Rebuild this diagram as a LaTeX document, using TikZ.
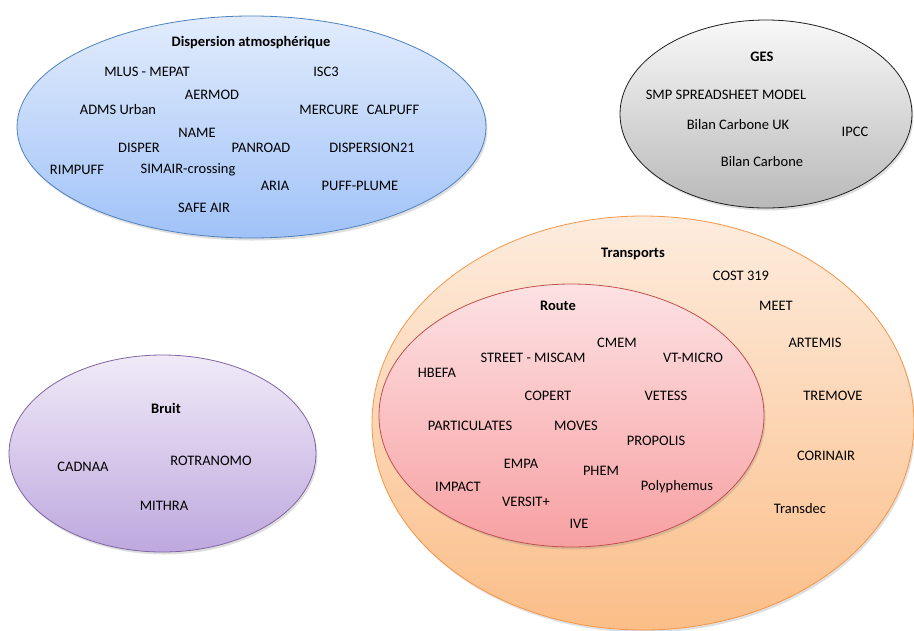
\documentclass[tikz,border=0pt]{standalone}
\usepackage{fontspec}
\setmainfont{Carlito}
\usetikzlibrary{shapes.geometric,shadows}
\definecolor{blueTop}{RGB}{226,236,252}
\definecolor{blueBot}{RGB}{160,194,248}
\definecolor{blueLine}{RGB}{79,129,189}
\definecolor{grayTop}{RGB}{248,248,248}
\definecolor{grayBot}{RGB}{185,185,185}
\definecolor{grayLine}{RGB}{30,30,30}
\definecolor{purpTop}{RGB}{240,234,248}
\definecolor{purpBot}{RGB}{190,168,222}
\definecolor{purpLine}{RGB}{128,100,162}
\definecolor{orTop}{RGB}{253,236,222}
\definecolor{orBot}{RGB}{251,190,136}
\definecolor{orLine}{RGB}{247,150,70}
\definecolor{redTop}{RGB}{253,226,228}
\definecolor{redBot}{RGB}{247,160,162}
\definecolor{redLine}{RGB}{192,80,77}
\tikzset{
  blob/.style={ellipse, inner sep=0pt, line width=0.8pt,
    drop shadow={opacity=0.25, shadow xshift=1.5pt, shadow yshift=-2.5pt}},
  lbl/.style={inner sep=0pt, font=\fontsize{14.5}{17}\selectfont},
  ttl/.style={lbl, font=\fontsize{14.5}{17}\selectfont\bfseries},
}
\begin{document}
\begin{tikzpicture}[x=1pt,y=-1pt]
\useasboundingbox (0,0) rectangle (914,630);
\clip (0,0) rectangle (914,630);
% ellipses
\node[blob, draw=blueLine, top color=blueTop, bottom color=blueBot,
  minimum width=469pt, minimum height=222pt] (disp) at (251.5,127) {};
\node[blob, draw=grayLine, top color=grayTop, bottom color=grayBot,
  minimum width=292pt, minimum height=188pt] (ges) at (766,114) {};
\node[blob, draw=purpLine, top color=purpTop, bottom color=purpBot,
  minimum width=307pt, minimum height=197pt] (bruit) at (162.5,453.5) {};
\node[blob, draw=orLine, top color=orTop, bottom color=orBot,
  minimum width=542pt, minimum height=414pt] (trans) at (643,423) {};
\node[blob, draw=redLine, top color=redTop, bottom color=redBot,
  minimum width=385pt, minimum height=263pt] (route) at (571.5,415.5) {};
% Dispersion
\node[ttl] (t1) at (251,43) {Dispersion atmosphérique};
\node[lbl] (d1) at (147,72) {MLUS - MEPAT};
\node[lbl] (d2) at (326,72) {ISC3};
\node[lbl] (d3) at (212,95) {AERMOD};
\node[lbl] (d4) at (118,110) {ADMS Urban};
\node[lbl] (d5) at (329,110) {MERCURE};
\node[lbl] (d6) at (393,110) {CALPUFF};
\node[lbl] (d7) at (197,133) {NAME};
\node[lbl] (d8) at (139,148) {DISPER};
\node[lbl] (d9) at (261,148) {PANROAD};
\node[lbl] (d10) at (372,148) {DISPERSION21};
\node[lbl] (d11) at (77,170) {RIMPUFF};
\node[lbl] (d12) at (188,170) {SIMAIR-crossing};
\node[lbl] (d13) at (275,186) {ARIA};
\node[lbl] (d14) at (360,186) {PUFF-PLUME};
\node[lbl] (d15) at (204,208) {SAFE AIR};
% GES
\node[ttl] (t2) at (762,57) {GES};
\node[lbl] (g1) at (726,95) {SMP SPREADSHEET MODEL};
\node[lbl] (g2) at (738,125) {Bilan Carbone UK};
\node[lbl] (g3) at (855,132) {IPCC};
\node[lbl] (g4) at (762,162) {Bilan Carbone};
% Bruit
\node[ttl] (t3) at (166,408) {Bruit};
\node[lbl] (b1) at (83,467) {CADNAA};
\node[lbl] (b2) at (211,461) {ROTRANOMO};
\node[lbl] (b3) at (164,506) {MITHRA};
% Transports
\node[ttl] (t4) at (633,254) {Transports};
\node[lbl] (p1) at (741,276) {COST 319};
\node[lbl] (p2) at (776,306) {MEET};
\node[lbl] (p3) at (815,343) {ARTEMIS};
\node[lbl] (p4) at (833,396) {TREMOVE};
\node[lbl] (p5) at (826,456) {CORINAIR};
\node[lbl] (p6) at (800,509) {Transdec};
% Route
\node[ttl] (t5) at (558,306) {Route};
\node[lbl] (r1) at (617,343) {CMEM};
\node[lbl] (r2) at (533,358) {STREET - MISCAM};
\node[lbl] (r3) at (693,358) {VT-MICRO};
\node[lbl] (r4) at (437,373) {HBEFA};
\node[lbl] (r5) at (548,396) {COPERT};
\node[lbl] (r6) at (666,396) {VETESS};
\node[lbl] (r7) at (470,426) {PARTICULATES};
\node[lbl] (r8) at (576,426) {MOVES};
\node[lbl] (r9) at (656,441) {PROPOLIS};
\node[lbl] (r10) at (521,464) {EMPA};
\node[lbl] (r11) at (601,471) {PHEM};
\node[lbl] (r12) at (458,487) {IMPACT};
\node[lbl] (r13) at (677,487) {Polyphemus};
\node[lbl] (r14) at (526,502) {VERSIT+};
\node[lbl] (r15) at (579,524) {IVE};
\end{tikzpicture}
\end{document}
